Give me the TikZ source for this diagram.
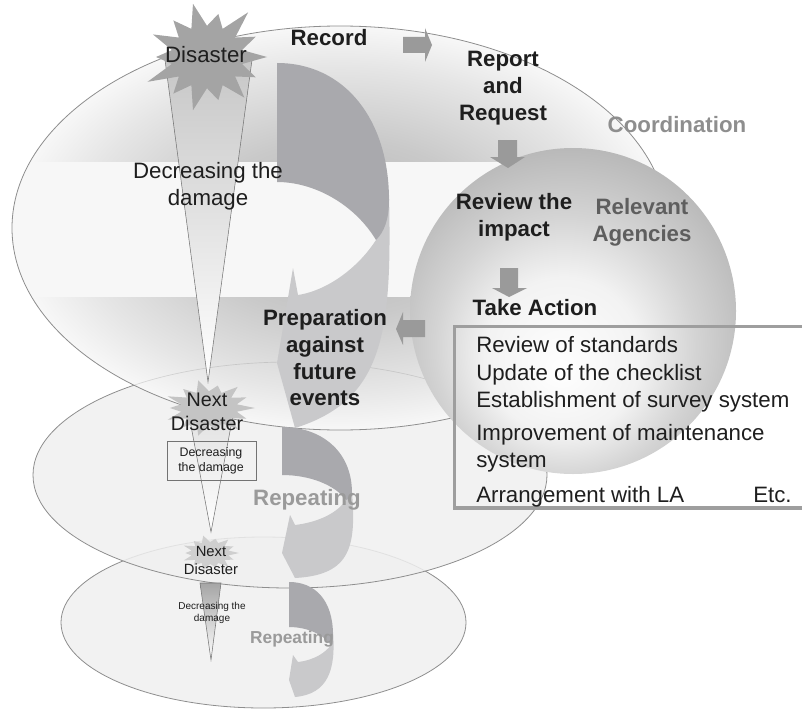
\documentclass[tikz,border=0pt]{standalone}
\usepackage{fontspec}
\setmainfont{Liberation Sans}
\definecolor{arrowgray}{HTML}{9A9A9A}
\definecolor{darkspiral}{HTML}{A9A9AD}
\definecolor{lightspiral}{HTML}{C9C9CB}
\definecolor{starA}{HTML}{A4A4A4}
\definecolor{starB}{HTML}{C4C4C4}
\definecolor{starC}{HTML}{CFCFCF}
\definecolor{edgegray}{HTML}{8E8E8E}
\definecolor{coordgray}{HTML}{8E8E8E}
\definecolor{relgray}{HTML}{5E5E5E}
\definecolor{repgray}{HTML}{9A9A9A}
\definecolor{boxgray}{HTML}{9E9E9E}
\definecolor{txt}{HTML}{1E1E1E}
\pgfdeclareradialshading{ringshade}{\pgfpoint{0bp}{0bp}}{color(0bp)=(black!30); color(11bp)=(black!21); color(20bp)=(black!10); color(25bp)=(black!3); color(50bp)=(black!3)}
\pgfdeclareradialshading{agshade}{\pgfpoint{-2bp}{-9bp}}{color(0bp)=(white); color(12bp)=(black!5); color(20bp)=(black!17); color(30bp)=(black!29); color(50bp)=(black!29)}
\newcommand{\burst}[7]{%
  \fill[#1] ({#2+#4},{#3}) \foreach \k/\f in {#7} {
    -- ({#2+#4*#6*cos((\k-0.5)*360/14)},{#3+#5*#6*sin((\k-0.5)*360/14)})
    -- ({#2+#4*\f*cos(\k*360/14)},{#3+#5*\f*sin(\k*360/14)}) } -- cycle;}
\begin{document}
\begin{tikzpicture}[x=0.75pt,y=-0.75pt,
  lbl/.style={font=\fontsize{16.7}{20}\selectfont, text=txt, align=center, inner sep=0pt},
  lblb/.style={font=\fontsize{16.7}{20}\selectfont\bfseries, text=txt, align=center, inner sep=0pt},
  item/.style={font=\fontsize{16.7}{20}\selectfont, text=txt, anchor=base west, inner sep=0pt},
  ring/.style={draw=edgegray, line width=0.6pt},
  blockarrow/.style={fill=arrowgray},
  funnel/.style={draw=black!55, line width=0.4pt}]
\useasboundingbox (0,0) rectangle (802,710);

% lower discs
\draw[ring, fill=black!5] (263.5,622.5) ellipse [x radius=202.5, y radius=85.5];
\draw[ring, fill=black!6, fill opacity=0.85] (290,475) ellipse [x radius=257, y radius=113];

% top disc
\shade[shading=ringshade] (340,228) ellipse [x radius=328, y radius=202];
\begin{scope}
  \clip (340,228) ellipse [x radius=328, y radius=202];
  \fill[white!97!black] (0,162) rectangle (802,297);
  \draw[edgegray, line width=0.5pt, opacity=0.3] (290,475) ellipse [x radius=257, y radius=113];
\end{scope}
\draw[ring] (340,228) ellipse [x radius=328, y radius=202];

% relevant agencies sphere
\shade[shading=agshade] (573,311) circle [radius=163];

% spiral 1
\fill[lightspiral] (389,195) .. controls (392,330) and (385,400) .. (295,428) -- (277,363) -- (293,268) -- (298,295) .. controls (330,290) and (360,265) .. (376,240) -- cycle;
\fill[darkspiral] (277,63) .. controls (345,63) and (389,120) .. (389,200) .. controls (389,220) and (384,232) .. (376,240) .. controls (355,205) and (315,182) .. (277,182) -- cycle;
% spiral 2
\fill[lightspiral] (352,492) .. controls (356,545) and (352,575) .. (295,578) -- (282,553) -- (290,515) -- (295,525) .. controls (320,522) and (338,512) .. (346,500) -- cycle;
\fill[darkspiral] (282,427) .. controls (320,427) and (352,450) .. (352,493) .. controls (352,496) and (349,499) .. (346,500) .. controls (335,485) and (310,475) .. (282,475) -- cycle;
% spiral 3
\fill[lightspiral] (333,632) .. controls (336,670) and (328,694) .. (295,697) -- (289,680) -- (293,655) -- (298,662) .. controls (315,660) and (326,652) .. (331,645) -- cycle;
\fill[darkspiral] (289,582) .. controls (315,582) and (333,600) .. (333,635) .. controls (333,640) and (332,643) .. (331,645) .. controls (322,633) and (305,627) .. (289,627) -- cycle;

% funnels
\draw[funnel, top color=black!22, bottom color=white] (165,60) -- (252,60) -- (208,382) -- cycle;
\draw[funnel, top color=black!12, bottom color=white] (188,410) -- (234,410) -- (211,532) -- cycle;
\draw[funnel, top color=black!35, bottom color=white] (200,583) -- (221,583) -- (211,660) -- cycle;

% bursts
\burst{starA}{207}{57}{60}{52}{0.6}{1/0.9,2/1.0,3/0.85,4/1.05,5/0.9,6/1.1,7/0.85,8/1.0,9/0.9,10/1.05,11/0.85,12/1.1,13/0.9,14/1.0}
\burst{starB}{209}{408}{46}{27}{0.62}{1/0.9,2/1.0,3/0.85,4/1.05,5/0.9,6/1.0,7/0.85,8/1.0,9/0.9,10/1.05,11/0.85,12/1.0,13/0.9,14/1.0}
\burst{starC}{210}{553}{29}{17}{0.65}{1/0.9,2/1.0,3/0.85,4/1.05,5/0.9,6/1.0,7/0.85,8/1.0,9/0.9,10/1.05,11/0.85,12/1.0,13/0.9,14/1.0}

% block arrows
\fill[blockarrow] (403,37) -- (425,37) -- (425,28) -- (432,45) -- (425,62) -- (425,53) -- (403,53) -- cycle;
\fill[blockarrow] (498,140) -- (517,140) -- (517,157) -- (525,157) -- (508,168) -- (490,157) -- (498,157) -- cycle;
\fill[blockarrow] (500,268) -- (518,268) -- (518,288) -- (527,288) -- (509,297) -- (492,288) -- (500,288) -- cycle;
\fill[blockarrow] (425,320) -- (403,320) -- (403,312) -- (396,329) -- (403,345) -- (403,337) -- (425,337) -- cycle;

% texts
\node[lbl] (dis) at (206,55) {Disaster};
\node[lblb] (rec) at (329,38) {Record};
\node[lblb] (rep) at (503,88) {Report\\and\\Request};
\node[lblb, text=coordgray] (coord) at (677,125) {Coordination};
\node[lbl] (dec) at (208,186) {Decreasing the\\damage};
\node[lblb] (rev) at (514,217) {Review the\\impact};
\node[lblb, text=relgray] (rel) at (642,222) {Relevant\\Agencies};
\node[lblb] (act) at (535,308) {Take Action};
\node[lblb] (prep) at (325,358) {Preparation\\against\\future\\events};
\node[font=\fontsize{14.8}{18}\selectfont, text=txt, align=center, inner sep=0pt] (nd1) at (207,412) {Next\\Disaster};
\node[font=\fontsize{9.3}{10.9}\selectfont, text=txt, align=center, inner sep=0pt] (dec2) at (211,461) {Decreasing\\the damage};
\draw[black!55, line width=0.5pt] (167,441) rectangle (256,480);
\node[lblb, text=repgray] (rep1) at (307,500) {Repeating};
\node[font=\fontsize{11.1}{13.5}\selectfont, text=txt, align=center, inner sep=0pt] (nd2) at (211,560) {Next\\Disaster};
\node[font=\fontsize{7.5}{9}\selectfont, text=txt, align=center, inner sep=0pt] (dec3) at (212,613) {Decreasing the\\damage};
\node[font=\fontsize{13}{15}\selectfont\bfseries, text=repgray, inner sep=0pt] (rep2) at (292,639) {Repeating};

% action box
\draw[boxgray, line width=2.4pt] (806,326.5) -- (454.5,326.5) -- (454.5,508) -- (806,508);
\node[item] (i1) at (476,352) {Review of standards};
\node[item] (i2) at (476,380) {Update of the checklist};
\node[item] (i3) at (476,407) {Establishment of survey system};
\node[item] (i4) at (476,440) {Improvement of maintenance};
\node[item] (i5) at (476,467) {system};
\node[item] (i6) at (476,502) {Arrangement with LA};
\node[item] (i7) at (753,502) {Etc.};
\end{tikzpicture}
\end{document}
